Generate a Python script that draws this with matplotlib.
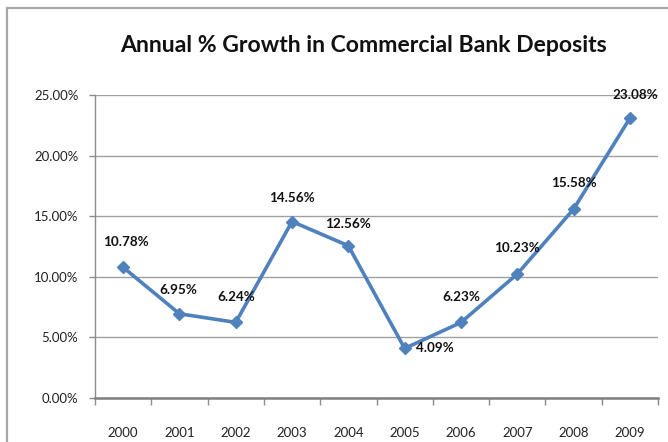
import matplotlib
matplotlib.use("Agg")
import matplotlib.pyplot as plt
from matplotlib.patches import Rectangle
from matplotlib.ticker import MultipleLocator, FuncFormatter, FixedLocator

years = ["2000", "2001", "2002", "2003", "2004", "2005", "2006", "2007", "2008", "2009"]
growth = [10.78, 6.95, 6.24, 14.56, 12.56, 4.09, 6.23, 10.23, 15.58, 23.08]
# label offsets in points (dx, dy) relative to each marker
label_offsets = [(2, 18), (-1, 17), (0, 18), (0, 17), (0, 16), (22, 0), (0, 18), (0, 19), (0, 19), (4, 17)]

plt.rcParams["font.family"] = ["Lato", "DejaVu Sans"]

fig = plt.figure(figsize=(6.68, 4.42), dpi=100)
fig.patch.set_facecolor("white")

# chart frame
fig.add_artist(Rectangle((7 / 668, -0.1), 1.2, 1 - 8 / 442 + 0.1, transform=fig.transFigure,
                         fill=False, edgecolor="#A6A6A6", linewidth=1.6))

ax = fig.add_axes([95 / 668, 1 - 398 / 442, (658 - 95) / 668, (398 - 95) / 442])

x = list(range(len(years)))
ax.plot(x, growth, color="#4F81BD", linewidth=2.6, marker="D", markersize=6.5,
        markeredgecolor="#4F81BD", markerfacecolor="#4F81BD", zorder=3, clip_on=False)

for xi, v, (dx, dy) in zip(x, growth, label_offsets):
    ax.annotate(f"{v:.2f}%", (xi, v), xytext=(dx, dy), textcoords="offset points",
                ha="center", va="center", fontsize=9.7, fontweight="bold", color="#111111",
                zorder=4)

ax.set_xlim(-0.5, len(years) - 0.5)
ax.set_ylim(0, 25)
ax.yaxis.set_major_locator(MultipleLocator(5))
ax.yaxis.set_major_formatter(FuncFormatter(lambda v, p: f"{v:.2f}%"))
ax.grid(axis="y", color="#A0A0A0", linewidth=1.0, zorder=0)
ax.set_axisbelow(True)

ax.set_xticks(x)
ax.set_xticklabels(years)
ax.tick_params(axis="x", which="major", length=0, pad=21, labelsize=9.5, colors="#222222")
ax.xaxis.set_minor_locator(FixedLocator([i - 0.5 for i in range(len(years) + 1)]))
ax.tick_params(axis="x", which="minor", length=5, width=1.0, color="#8C8C8C", direction="out")
ax.tick_params(axis="y", length=4, width=1.0, color="#8C8C8C", pad=8, labelsize=9.5, labelcolor="#222222")

for side in ("top", "right"):
    ax.spines[side].set_visible(False)
ax.spines["left"].set_color("#8C8C8C")
ax.spines["left"].set_linewidth(1.0)
ax.spines["bottom"].set_color("#7F7F7F")
ax.spines["bottom"].set_linewidth(1.8)

fig.text(364 / 668, 1 - 45 / 442, "Annual % Growth in Commercial Bank Deposits",
         ha="center", va="center", fontsize=16.6, fontweight="bold", color="#111111")

fig.savefig("out.png", dpi=100, facecolor="white")
